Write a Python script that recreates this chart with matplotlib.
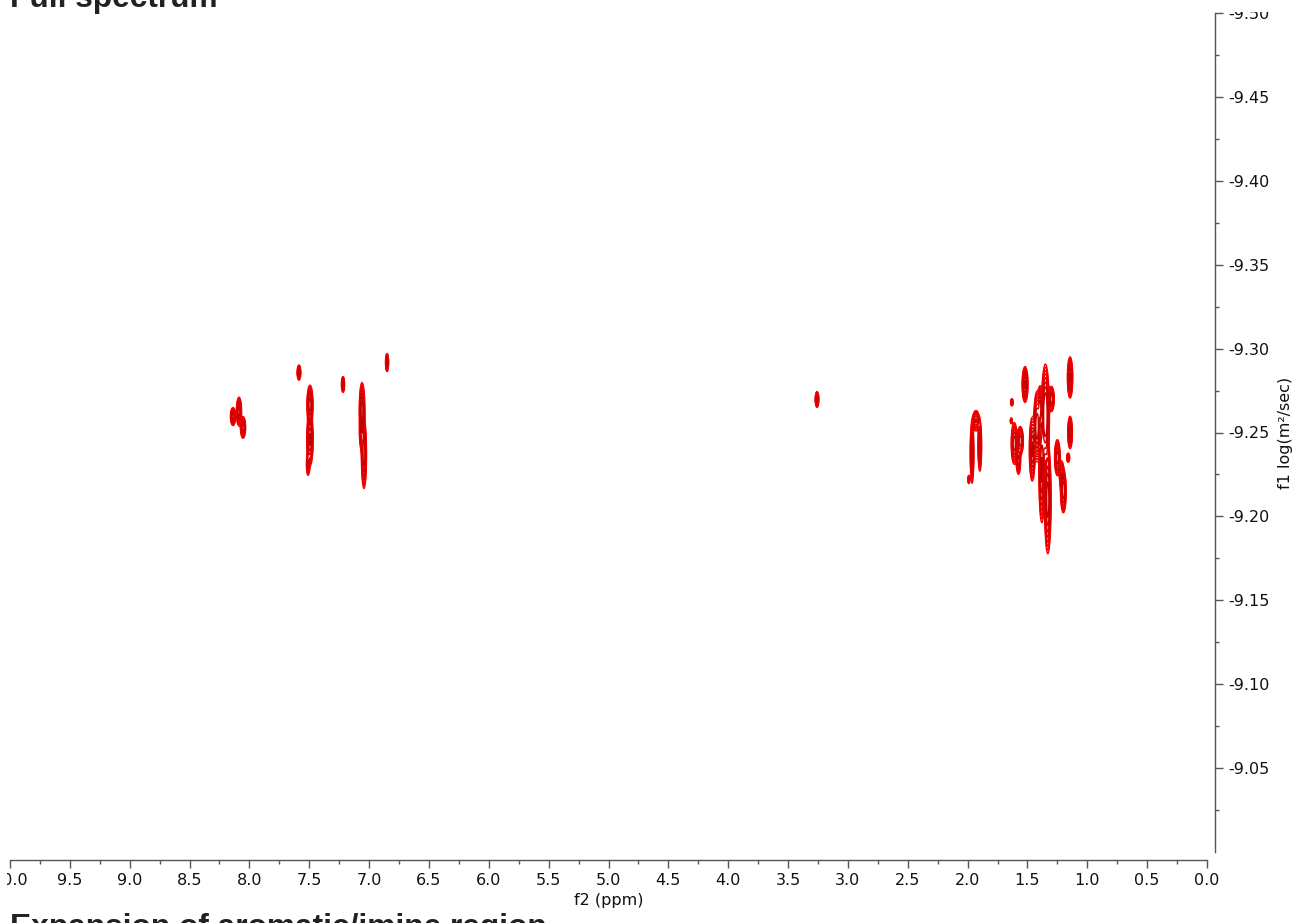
import numpy as np
import matplotlib
matplotlib.use("Agg")
import matplotlib.pyplot as plt
from matplotlib.ticker import MultipleLocator, FixedLocator, FormatStrFormatter
from matplotlib.transforms import Bbox, TransformedBbox

plt.rcParams["axes.unicode_minus"] = False

# DOSY cross peaks: chemical shift (ppm), log diffusion coefficient,
# widths along each dimension and relative intensity
peak_ppm = [8.137, 8.087, 8.053,
            7.586, 7.494, 7.494, 7.510,
            7.218, 7.059, 7.043, 7.062,
            6.850, 3.258,
            1.930, 1.963, 1.898, 1.990,
            1.630, 1.635, 1.520, 1.610, 1.560, 1.575,
            1.460, 1.420, 1.350, 1.330, 1.380, 1.395,
            1.300, 1.250, 1.200, 1.215, 1.160, 1.144, 1.144]
peak_logd = [-9.2595, -9.2625, -9.2530,
             -9.2857, -9.2667, -9.2458, -9.2310,
             -9.2786, -9.2637, -9.2370, -9.2500,
             -9.2917, -9.2697,
             -9.2570, -9.2380, -9.2420, -9.2220,
             -9.2680, -9.2570, -9.2786, -9.2435, -9.2450, -9.2330,
             -9.2400, -9.2536, -9.2607, -9.2100, -9.2275, -9.2650,
             -9.2700, -9.2350, -9.2150, -9.2250, -9.2350, -9.2828, -9.2500]
peak_wppm = [0.010, 0.010, 0.010,
             0.007, 0.011, 0.012, 0.007,
             0.006, 0.010, 0.010, 0.009,
             0.006, 0.007,
             0.014, 0.007, 0.007, 0.005,
             0.006, 0.005, 0.011, 0.012, 0.012, 0.009,
             0.011, 0.012, 0.014, 0.012, 0.011, 0.009,
             0.011, 0.011, 0.011, 0.009, 0.007, 0.010, 0.009]
peak_wlogd = [0.0025, 0.0040, 0.0030,
              0.0021, 0.0050, 0.0070, 0.0034,
              0.0022, 0.0070, 0.0095, 0.0050,
              0.0025, 0.0022,
              0.0030, 0.0085, 0.0070, 0.0015,
              0.0012, 0.0010, 0.0048, 0.0058, 0.0040, 0.0040,
              0.0085, 0.0090, 0.0125, 0.0140, 0.0140, 0.0060,
              0.0035, 0.0050, 0.0060, 0.0040, 0.0015, 0.0055, 0.0045]
peak_amp = [1.0, 1.0, 1.0,
            1.0, 1.4, 1.2, 0.6,
            1.0, 1.4, 1.0, 0.8,
            1.0, 1.0,
            0.8, 1.0, 1.0, 0.4,
            0.5, 0.4, 1.2, 1.0, 1.0, 0.7,
            1.2, 1.5, 1.8, 1.4, 1.2, 0.9,
            1.0, 1.0, 1.0, 0.7, 0.5, 1.2, 1.0]

x_ticks = np.arange(0.0, 10.01, 0.5)
y_ticks = [-9.50, -9.45, -9.40, -9.35, -9.30, -9.25, -9.20, -9.15, -9.10, -9.05]

# Build the 2D spectrum on a grid
ppm = np.linspace(0.0, 10.0, 5001)
logd = np.linspace(-9.5, -9.0, 1001)
Z = np.zeros((logd.size, ppm.size))
for cx, cy, sx, sy, a in zip(peak_ppm, peak_logd, peak_wppm, peak_wlogd, peak_amp):
    gx = np.exp(-0.5 * ((ppm - cx) / sx) ** 2)
    gy = np.exp(-0.5 * ((logd - cy) / sy) ** 2)
    Z += a * np.outer(gy, gx)

fig = plt.figure(figsize=(13.03, 9.23), dpi=100)
ax = fig.add_axes([10 / 1303, 71 / 923, 1197 / 1303, 839 / 923])

levels = 0.1 * 1.4 ** np.arange(8)
cmap = matplotlib.colors.LinearSegmentedColormap.from_list("reds", ["#ff0000", "#c40000"])
colors = [cmap(i / (len(levels) - 1)) for i in range(len(levels))]
ax.contour(ppm, logd, Z, levels=levels, colors=colors, linewidths=1.0)

ax.set_xlim(10.0, 0.0)
ax.set_ylim(-9.0, -9.5)

for side in ("top", "left"):
    ax.spines[side].set_visible(False)
for side in ("bottom", "right"):
    ax.spines[side].set_position(("outward", 6))
    ax.spines[side].set_color("#555555")
    ax.spines[side].set_linewidth(1.0)

ax.xaxis.set_major_locator(FixedLocator(x_ticks))
ax.xaxis.set_minor_locator(MultipleLocator(0.25))
ax.xaxis.set_major_formatter(FormatStrFormatter("%.1f"))
ax.yaxis.tick_right()
ax.yaxis.set_label_position("right")
ax.yaxis.set_major_locator(FixedLocator(y_ticks))
ax.yaxis.set_minor_locator(FixedLocator(np.arange(-9.475, -9.0, 0.05)))
ax.yaxis.set_major_formatter(FormatStrFormatter("%.2f"))

ax.tick_params(which="major", direction="out", length=6, width=1.0,
               color="#555555", labelsize=11.5, labelcolor="#111111", pad=3)
ax.tick_params(which="minor", direction="out", length=3, width=1.0, color="#555555")

ax.set_xlabel("f2 (ppm)", fontsize=11.5, color="#111111", labelpad=4)
ax.set_ylabel("f1 log(m²/sec)", fontsize=11.5, color="#111111", labelpad=6)

# The plotting panel is framed: labels at the extreme edges are trimmed
frame = TransformedBbox(Bbox([[7 / 1303, 0.0], [1.0, 1 - 12 / 923]]), fig.transFigure)
fig.canvas.draw()
for lbl in ax.get_xticklabels() + ax.get_yticklabels():
    lbl.set_clip_on(True)
    lbl.set_clip_box(frame)

fig.text(10 / 1303, 1 - 7 / 923, "Full spectrum", family="Liberation Sans",
         weight="bold", fontsize=22.8, color="#222222", va="baseline", ha="left")
fig.text(10 / 1303, 1 - 913 / 923, "Expansion of aromatic/imine region",
         family="Liberation Sans", weight="bold", fontsize=22.8, color="#222222",
         va="top", ha="left")

fig.savefig("out.png", dpi=100)
